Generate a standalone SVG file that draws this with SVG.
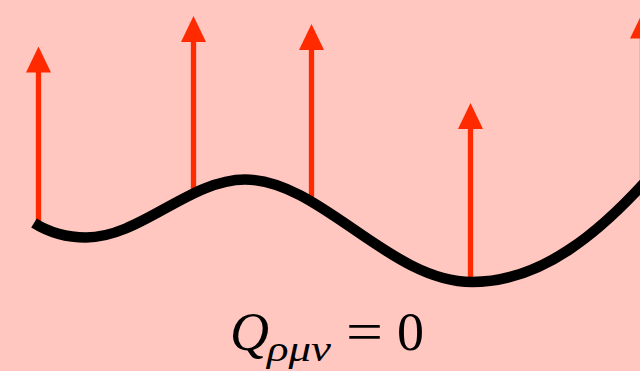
<svg xmlns="http://www.w3.org/2000/svg" width="640" height="371" viewBox="0 0 640 371">
  <style>
    .shaft { stroke: #ff2a00; stroke-width: 5.3; fill: none; }
    .curve { stroke: #000; stroke-width: 10.5; fill: none; }
    .eq { font-family: "Liberation Serif", "Times New Roman", serif; fill: #000; }
  </style>
  <defs>
    <marker id="head" viewBox="0 0 26 25" refX="0.5" refY="12.5" markerWidth="26" markerHeight="25" markerUnits="userSpaceOnUse" orient="auto">
      <path d="M0,0 L26,12.5 L0,25 Z" fill="#ff2a00"/>
    </marker>
  </defs>
  <rect width="640" height="371" fill="#ffc7bf"/>
  <g id="connectors">
    <line class="shaft" x1="38.5" y1="224" x2="38.5" y2="72" marker-end="url(#head)"/>
    <line class="shaft" x1="193.5" y1="192" x2="193.5" y2="41.5" marker-end="url(#head)"/>
    <line class="shaft" x1="311.5" y1="202" x2="311.5" y2="49.5" marker-end="url(#head)"/>
    <line class="shaft" x1="470.5" y1="282" x2="470.5" y2="128.5" marker-end="url(#head)"/>
    <line class="shaft" x1="642.5" y1="200" x2="642.5" y2="38" marker-end="url(#head)"/>
  </g>
  <g id="surface">
    <path class="curve" d="M34,223 C50,233 68,237.5 86,237.5 C140,237.5 190,179.5 245,179.5 C320,179.5 390,282 472,282 C540,282 600,235 660,165"/>
  </g>
  <g id="label">
    <text class="eq" x="230" y="350" font-size="54" font-style="italic">Q</text>
    <text class="eq" x="267" y="361" font-size="36" font-style="italic" textLength="64" lengthAdjust="spacingAndGlyphs">ρμν</text>
    <text class="eq" x="346" y="350" font-size="54" textLength="37" lengthAdjust="spacingAndGlyphs">=</text>
    <text class="eq" x="397" y="350" font-size="54">0</text>
  </g>
</svg>
